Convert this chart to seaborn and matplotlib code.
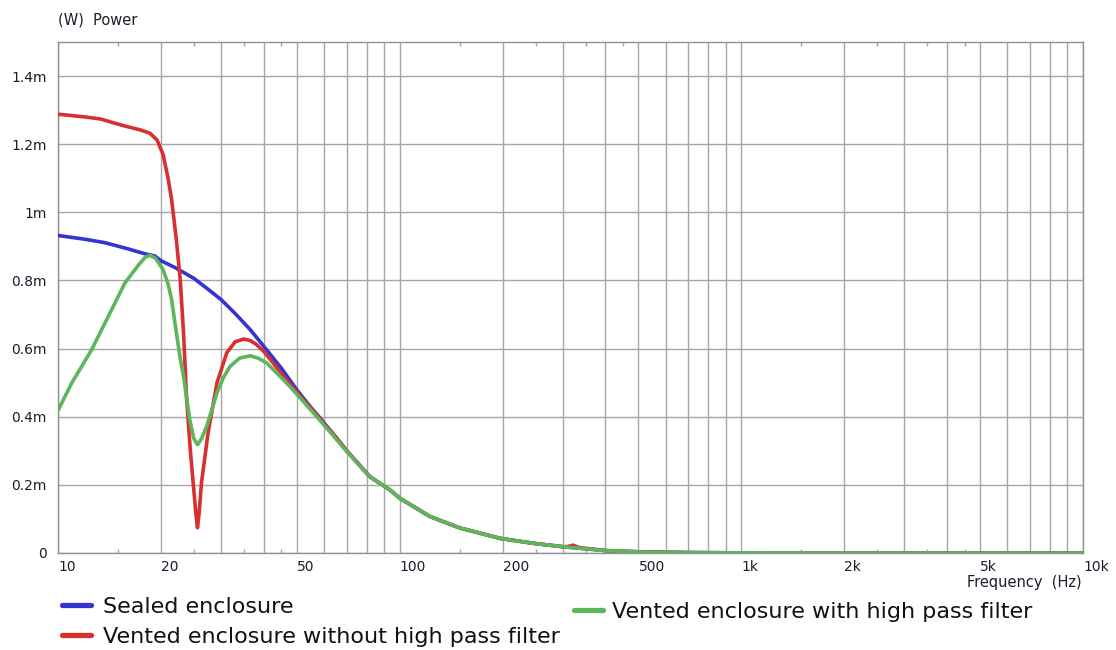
import numpy as np
import pandas as pd
import matplotlib
matplotlib.use("Agg")
import matplotlib.pyplot as plt
from matplotlib.ticker import FixedLocator, NullFormatter
from matplotlib.lines import Line2D
import seaborn as sns

# ---------------- data (power in mW, frequency in Hz) ----------------
sealed_freq = [10, 12, 13.7, 16, 18, 19.2, 20, 22, 25, 28, 30, 33, 36.5, 40, 45, 50,
               55, 58.4, 65, 70, 81.8, 93.7, 100, 122.7, 150, 196.6, 246, 300, 404,
               515, 700, 1000, 2000, 5000, 10000]
sealed_power = [0.932, 0.921, 0.911, 0.893, 0.878, 0.872, 0.858, 0.838, 0.806, 0.768,
                0.744, 0.703, 0.656, 0.607, 0.543, 0.479, 0.427, 0.397, 0.340, 0.300,
                0.224, 0.185, 0.161, 0.107, 0.0735, 0.043, 0.0285, 0.0185, 0.0068,
                0.003, 0.0012, 0.0004, 0.0001, 0.00002, 0.000005]

vented_freq = [10, 12, 13.3, 15.6, 17.4, 18.6, 19.5, 20.3, 21.0, 21.5, 22.2, 22.8, 23.3,
               23.8, 24.4, 24.9, 25.3, 25.6, 25.9, 26.3, 27.5, 29.2, 31.2, 33.0, 34.9,
               36.5, 38.1, 40.0, 42.6, 46, 50, 55, 60, 65, 70, 81.8, 93.7, 100, 122.7,
               150, 196.6, 246, 300, 310, 322, 335, 404, 515, 700, 1000, 2000, 5000, 10000]
vented_power = [1.288, 1.280, 1.274, 1.254, 1.242, 1.232, 1.212, 1.170, 1.10, 1.038, 0.92,
                0.80, 0.647, 0.45, 0.30, 0.20, 0.12, 0.074, 0.12, 0.206, 0.353, 0.50,
                0.588, 0.620, 0.628, 0.624, 0.612, 0.592, 0.558, 0.515, 0.472, 0.425,
                0.380, 0.341, 0.300, 0.224, 0.185, 0.161, 0.107, 0.0735, 0.043, 0.0285,
                0.0185, 0.019, 0.023, 0.016, 0.0068, 0.003, 0.0012, 0.0004, 0.0001,
                0.00002, 0.000005]

hpf_freq = [10, 10.97, 12.55, 14.04, 15.7, 17.2, 18.0, 18.6, 19.3, 20.3, 21.0, 21.5, 22.2,
            22.8, 23.3, 24.3, 25.0, 25.6, 26.3, 27.2, 28.2, 29.2, 30.5, 31.9, 34.0, 36.5,
            38.5, 40.8, 44, 47.7, 52, 57.2, 62, 70, 81.8, 93.7, 100, 122.7, 150, 196.6,
            246, 300, 404, 515, 700, 1000, 2000, 5000, 10000]
hpf_power = [0.418, 0.499, 0.597, 0.695, 0.793, 0.845, 0.868, 0.874, 0.865, 0.832, 0.79,
             0.744, 0.647, 0.57, 0.519, 0.391, 0.335, 0.318, 0.335, 0.371, 0.42, 0.47,
             0.515, 0.548, 0.572, 0.579, 0.572, 0.558, 0.525, 0.489, 0.447, 0.40, 0.36,
             0.298, 0.224, 0.185, 0.161, 0.107, 0.0735, 0.043, 0.0285, 0.0185, 0.0068,
             0.003, 0.0012, 0.0004, 0.0001, 0.00002, 0.000005]

series_names = ["Sealed enclosure",
                "Vented enclosure without high pass filter",
                "Vented enclosure with high pass filter"]
series_colors = ["#3434d2", "#d83030", "#5cb65c"]

y_ticks = [0, 0.2, 0.4, 0.6, 0.8, 1.0, 1.2, 1.4]
y_tick_labels = ["0", "0.2m", "0.4m", "0.6m", "0.8m", "1m", "1.2m", "1.4m"]
x_label_ticks = [10, 20, 50, 100, 200, 500, 1000, 2000, 5000, 10000]
x_tick_labels = ["10", "20", "50", "100", "200", "500", "1k", "2k", "5k", "10k"]

# ---------------- build dataframe ----------------
df = pd.concat([
    pd.DataFrame({"freq": sealed_freq, "power": sealed_power, "series": series_names[0]}),
    pd.DataFrame({"freq": vented_freq, "power": vented_power, "series": series_names[1]}),
    pd.DataFrame({"freq": hpf_freq, "power": hpf_power, "series": series_names[2]}),
], ignore_index=True)

sns.set_theme(style="white")
plt.rcParams["font.family"] = ["DejaVu Sans"]

W, H = 1116, 650
fig = plt.figure(figsize=(W / 100, H / 100), dpi=100)
ax = fig.add_axes([58 / W, (H - 553) / H, 1025 / W, 511 / H])

grid_color = "#a6a6a6"
text_color = "#1c1c2c"

sns.lineplot(data=df, x="freq", y="power", hue="series", hue_order=series_names,
             palette=series_colors, estimator=None, sort=False, linewidth=2.6,
             ax=ax, legend=False, zorder=3)

ax.set_xscale("log")
ax.set_xlim(10, 10000)
ax.set_ylim(0, 1.5)

# grid positions: 10, 20..100, 200..1000, 2000..10000
grid_pos = [10]
for d in [10, 100, 1000]:
    for n in range(2, 11):
        grid_pos.append(n * d)
grid_labels = [x_tick_labels[x_label_ticks.index(v)] if v in x_label_ticks else ""
               for v in grid_pos]
ax.set_xticks(grid_pos)
ax.set_xticklabels(grid_labels)

minor = []
for d in [10, 100, 1000]:
    for n in [1.5, 2.5, 3.5, 4.5]:
        minor.append(n * d)
ax.xaxis.set_minor_locator(FixedLocator(minor))
ax.xaxis.set_minor_formatter(NullFormatter())
ax.tick_params(axis="x", which="major", length=0, pad=5, labelsize=10, colors=text_color)
ax.tick_params(axis="x", which="minor", length=3, direction="in", top=True,
               bottom=True, color=grid_color, width=1)
for lab in ax.get_xticklabels():
    lab.set_horizontalalignment("left")

ax.set_yticks(y_ticks)
ax.set_yticklabels(y_tick_labels)
ax.tick_params(axis="y", which="major", length=0, pad=8, labelsize=10, colors=text_color)

ax.grid(True, which="major", axis="both", color=grid_color, linewidth=1)
ax.set_axisbelow(True)
for s in ax.spines.values():
    s.set_color("#909090")
    s.set_linewidth(1)

ax.set_xlabel("")
ax.set_ylabel("")

fig.text(58 / W, 1 - 20 / H, "(W)  Power", fontsize=10.5, color=text_color,
         ha="left", va="center")
fig.text(1082 / W, 1 - 583 / H, "Frequency  (Hz)", fontsize=10.5, color=text_color,
         ha="right", va="center")

handles = [Line2D([], [], color=c, linewidth=3.8) for c in series_colors]

leg1 = fig.legend(handles[:2], series_names[:2], loc="upper left",
                  bbox_to_anchor=(62 / W, 1 - 597 / H), frameon=False, fontsize=16,
                  handlelength=1.3, handletextpad=0.55, labelspacing=0.45,
                  borderpad=0, borderaxespad=0, labelcolor="#111111")
leg2 = fig.legend(handles[2:], series_names[2:], loc="upper left",
                  bbox_to_anchor=(574 / W, 1 - 602 / H), frameon=False, fontsize=16,
                  handlelength=1.3, handletextpad=0.4, borderpad=0, borderaxespad=0,
                  labelcolor="#111111")

fig.savefig("out.png", dpi=100)
